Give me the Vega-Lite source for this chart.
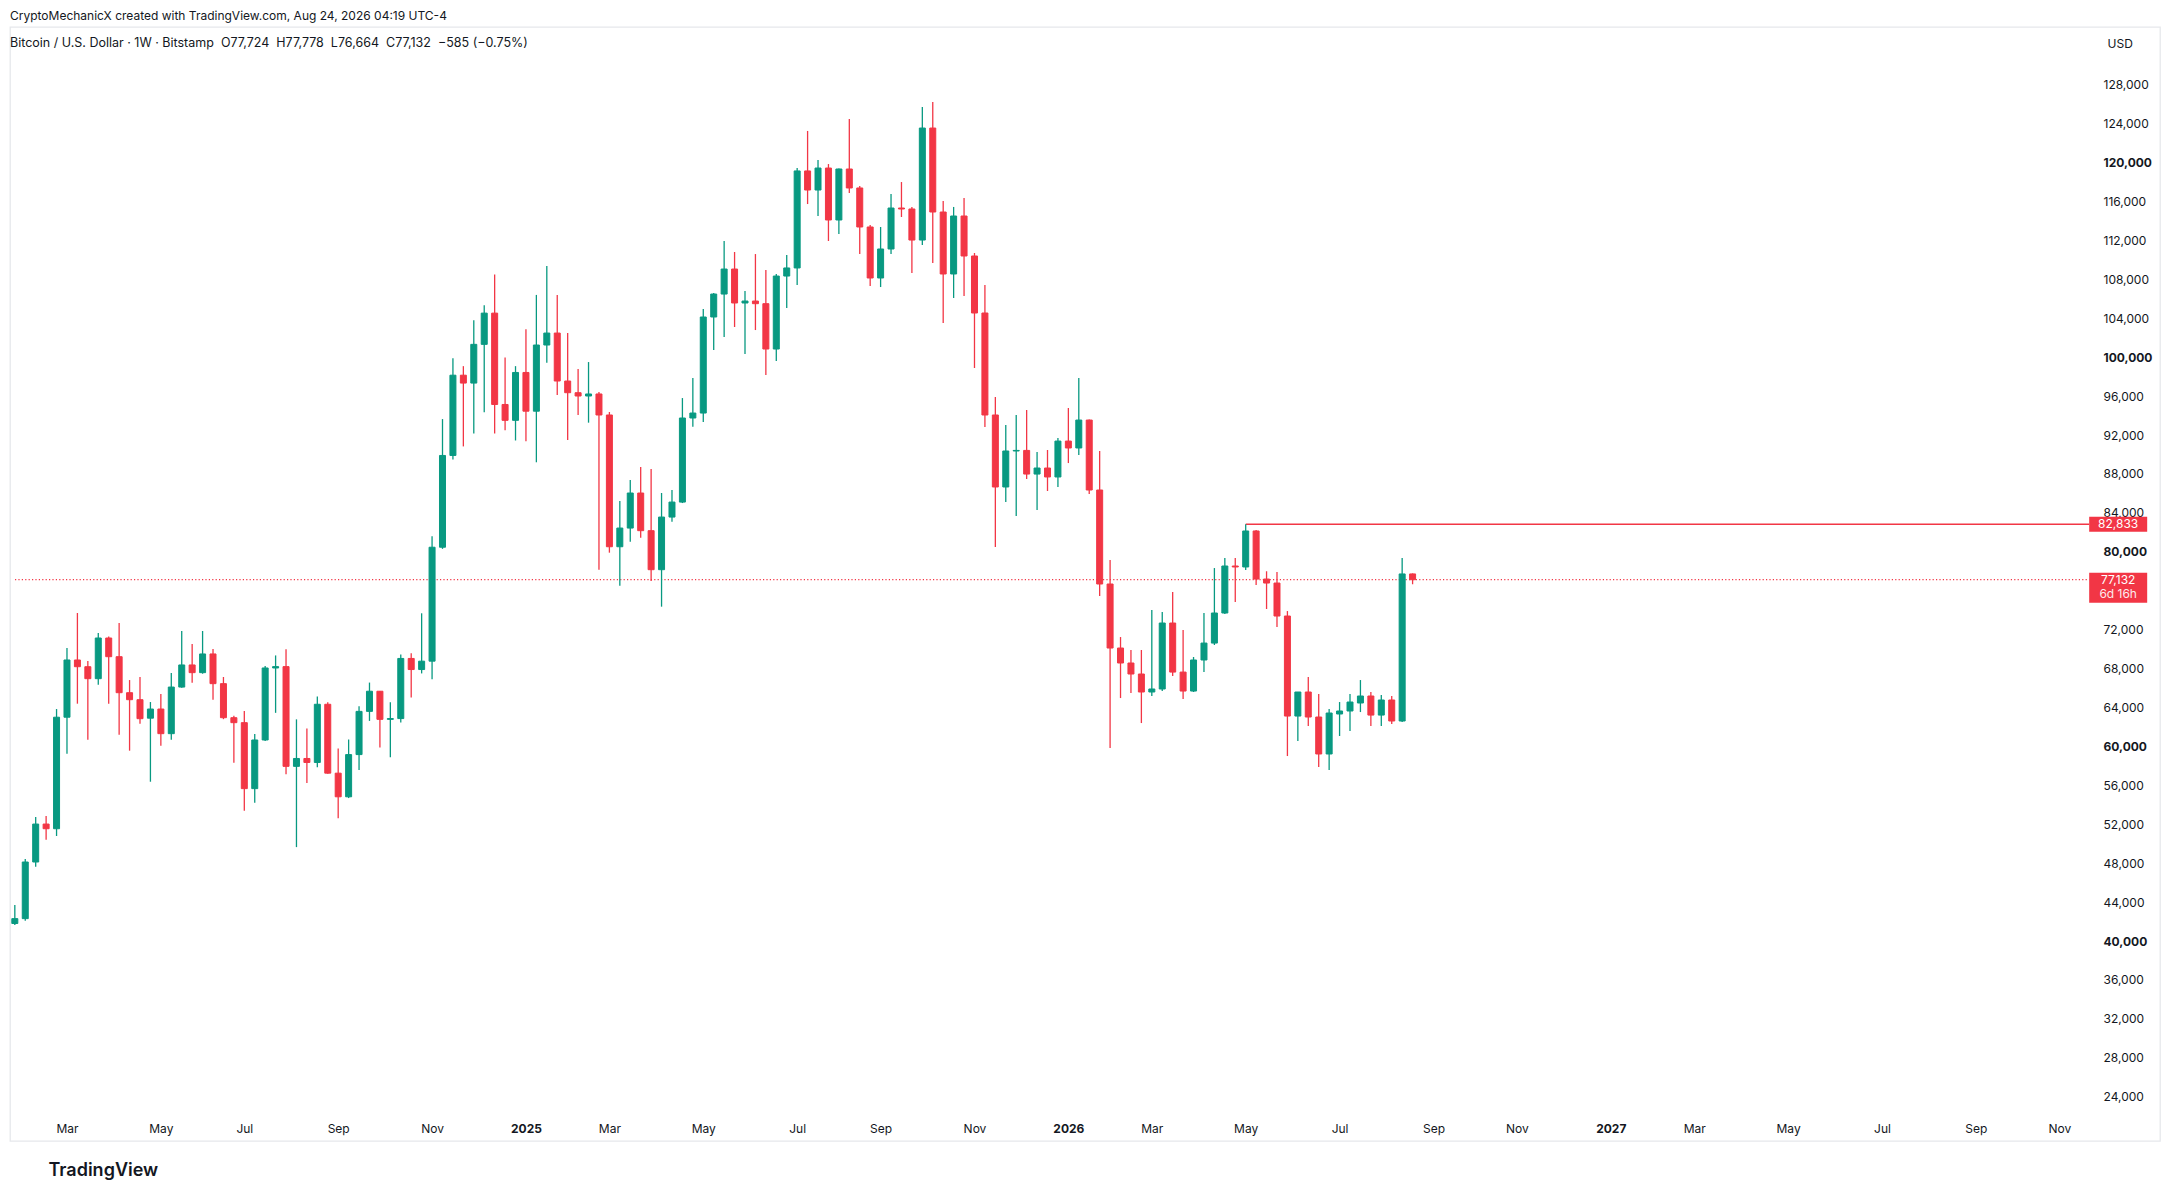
{
  "$schema": "https://vega.github.io/schema/vega-lite/v6.json",
  "description": "Bitcoin / U.S. Dollar weekly candlesticks, Bitstamp",
  "width": 2150,
  "height": 1114,
  "autosize": {"type": "none"},
  "padding": {"left": 10, "top": 27, "right": 10, "bottom": 61},
  "background": "white",
  "config": {
    "font": "Inter",
    "view": {"stroke": "#e6e8ec", "strokeWidth": 1.3}
  },
  "title": {
    "text": "CryptoMechanicX created with TradingView.com, Aug 24, 2026 04:19 UTC-4",
    "subtitle": "\u00a0\u00a0Bitcoin / U.S. Dollar · 1W · Bitstamp\u00a0\u00a0O77,724\u00a0\u00a0H77,778\u00a0\u00a0L76,664\u00a0\u00a0C77,132\u00a0\u00a0−585 (−0.75%)",
    "anchor": "start",
    "frame": "group",
    "fontSize": 12,
    "fontWeight": "normal",
    "color": "#131722",
    "subtitleFontSize": 12.5,
    "subtitleColor": "#131722",
    "subtitlePadding": 14,
    "offset": -23
  },
  "data": {
    "values": [
      {"d": "2024-01-29", "o": 41800, "h": 43700, "l": 41650, "c": 42300},
      {"d": "2024-02-05", "o": 42300, "h": 48430, "l": 42090, "c": 48120},
      {"d": "2024-02-12", "o": 48120, "h": 52740, "l": 47640, "c": 52020},
      {"d": "2024-02-19", "o": 52020, "h": 52850, "l": 50410, "c": 51540},
      {"d": "2024-02-26", "o": 51540, "h": 63840, "l": 50790, "c": 63000},
      {"d": "2024-03-04", "o": 63000, "h": 70110, "l": 59250, "c": 68880},
      {"d": "2024-03-11", "o": 68880, "h": 73710, "l": 64390, "c": 68190},
      {"d": "2024-03-18", "o": 68190, "h": 68780, "l": 60690, "c": 66960},
      {"d": "2024-03-25", "o": 66960, "h": 71650, "l": 66340, "c": 71140},
      {"d": "2024-04-01", "o": 71140, "h": 71300, "l": 64390, "c": 69220},
      {"d": "2024-04-08", "o": 69220, "h": 72680, "l": 61200, "c": 65520},
      {"d": "2024-04-15", "o": 65520, "h": 66820, "l": 59560, "c": 64800},
      {"d": "2024-04-22", "o": 64800, "h": 67130, "l": 62340, "c": 62850},
      {"d": "2024-04-29", "o": 62900, "h": 64560, "l": 56370, "c": 63840},
      {"d": "2024-05-06", "o": 63840, "h": 65380, "l": 60070, "c": 61310},
      {"d": "2024-05-13", "o": 61310, "h": 67540, "l": 60690, "c": 66100},
      {"d": "2024-05-20", "o": 66100, "h": 71860, "l": 66040, "c": 68370},
      {"d": "2024-05-27", "o": 68370, "h": 70520, "l": 66550, "c": 67580},
      {"d": "2024-06-03", "o": 67580, "h": 71860, "l": 67470, "c": 69500},
      {"d": "2024-06-10", "o": 69500, "h": 70010, "l": 64800, "c": 66450},
      {"d": "2024-06-17", "o": 66450, "h": 67130, "l": 62800, "c": 62950},
      {"d": "2024-06-24", "o": 62950, "h": 63160, "l": 58330, "c": 62440},
      {"d": "2024-07-01", "o": 62440, "h": 63640, "l": 53390, "c": 55660},
      {"d": "2024-07-08", "o": 55660, "h": 61270, "l": 54220, "c": 60660},
      {"d": "2024-07-15", "o": 60660, "h": 68260, "l": 60550, "c": 68060},
      {"d": "2024-07-22", "o": 68060, "h": 69350, "l": 63450, "c": 68200},
      {"d": "2024-07-29", "o": 68200, "h": 69990, "l": 57150, "c": 57950},
      {"d": "2024-08-05", "o": 57950, "h": 62780, "l": 49650, "c": 58760},
      {"d": "2024-08-12", "o": 58760, "h": 61850, "l": 56240, "c": 58350},
      {"d": "2024-08-19", "o": 58350, "h": 65140, "l": 57860, "c": 64330},
      {"d": "2024-08-26", "o": 64330, "h": 64530, "l": 57200, "c": 57250},
      {"d": "2024-09-02", "o": 57250, "h": 59780, "l": 52620, "c": 54820},
      {"d": "2024-09-09", "o": 54820, "h": 60710, "l": 54690, "c": 59160},
      {"d": "2024-09-16", "o": 59160, "h": 64120, "l": 57580, "c": 63600},
      {"d": "2024-09-23", "o": 63600, "h": 66560, "l": 62620, "c": 65670},
      {"d": "2024-09-30", "o": 65670, "h": 65700, "l": 59900, "c": 62780},
      {"d": "2024-10-07", "o": 62780, "h": 64530, "l": 58880, "c": 62860},
      {"d": "2024-10-14", "o": 62860, "h": 69450, "l": 62460, "c": 69040},
      {"d": "2024-10-21", "o": 69040, "h": 69570, "l": 65020, "c": 67900},
      {"d": "2024-10-28", "o": 67900, "h": 73680, "l": 67500, "c": 68760},
      {"d": "2024-11-04", "o": 68760, "h": 81600, "l": 66890, "c": 80470},
      {"d": "2024-11-11", "o": 80470, "h": 93640, "l": 80300, "c": 89900},
      {"d": "2024-11-18", "o": 89900, "h": 99900, "l": 89490, "c": 98150},
      {"d": "2024-11-25", "o": 98150, "h": 99080, "l": 90830, "c": 97340},
      {"d": "2024-12-02", "o": 97340, "h": 103800, "l": 92170, "c": 101320},
      {"d": "2024-12-09", "o": 101320, "h": 105340, "l": 94330, "c": 104530},
      {"d": "2024-12-16", "o": 104530, "h": 108510, "l": 92170, "c": 95140},
      {"d": "2024-12-23", "o": 95140, "h": 99980, "l": 92500, "c": 93510},
      {"d": "2024-12-30", "o": 93510, "h": 99080, "l": 91440, "c": 98430},
      {"d": "2025-01-06", "o": 98430, "h": 102860, "l": 91360, "c": 94450},
      {"d": "2025-01-13", "o": 94450, "h": 106400, "l": 89200, "c": 101250},
      {"d": "2025-01-20", "o": 101250, "h": 109370, "l": 99440, "c": 102480},
      {"d": "2025-01-27", "o": 102480, "h": 106390, "l": 96110, "c": 97550},
      {"d": "2025-02-03", "o": 97550, "h": 102480, "l": 91490, "c": 96350},
      {"d": "2025-02-10", "o": 96350, "h": 98790, "l": 94060, "c": 96010},
      {"d": "2025-02-17", "o": 96010, "h": 99500, "l": 93270, "c": 96220},
      {"d": "2025-02-24", "o": 96220, "h": 96420, "l": 78160, "c": 94060},
      {"d": "2025-03-03", "o": 94060, "h": 94370, "l": 79910, "c": 80520},
      {"d": "2025-03-10", "o": 80520, "h": 85220, "l": 76520, "c": 82440},
      {"d": "2025-03-17", "o": 82440, "h": 87380, "l": 81040, "c": 86040},
      {"d": "2025-03-24", "o": 86040, "h": 88710, "l": 81450, "c": 82170},
      {"d": "2025-03-31", "o": 82170, "h": 88510, "l": 77000, "c": 78160},
      {"d": "2025-04-07", "o": 78160, "h": 86040, "l": 74360, "c": 83570},
      {"d": "2025-04-14", "o": 83570, "h": 86350, "l": 83090, "c": 85110},
      {"d": "2025-04-21", "o": 85110, "h": 95800, "l": 85010, "c": 93750},
      {"d": "2025-04-28", "o": 93750, "h": 97860, "l": 92860, "c": 94260},
      {"d": "2025-05-05", "o": 94260, "h": 104950, "l": 93340, "c": 104130},
      {"d": "2025-05-12", "o": 104130, "h": 106600, "l": 100740, "c": 106490},
      {"d": "2025-05-19", "o": 106490, "h": 111940, "l": 102070, "c": 109060},
      {"d": "2025-05-26", "o": 109060, "h": 110810, "l": 103100, "c": 105570},
      {"d": "2025-06-02", "o": 105570, "h": 106800, "l": 100330, "c": 105770},
      {"d": "2025-06-09", "o": 105770, "h": 110600, "l": 102790, "c": 105500},
      {"d": "2025-06-16", "o": 105500, "h": 108960, "l": 98170, "c": 100840},
      {"d": "2025-06-23", "o": 100840, "h": 108550, "l": 99610, "c": 108340},
      {"d": "2025-06-30", "o": 108340, "h": 110500, "l": 105050, "c": 109170},
      {"d": "2025-07-07", "o": 109170, "h": 119440, "l": 107420, "c": 119140},
      {"d": "2025-07-14", "o": 119140, "h": 123250, "l": 115740, "c": 117180},
      {"d": "2025-07-21", "o": 117180, "h": 120270, "l": 114510, "c": 119440},
      {"d": "2025-07-28", "o": 119440, "h": 119850, "l": 111940, "c": 114100},
      {"d": "2025-08-04", "o": 114100, "h": 119400, "l": 112660, "c": 119340},
      {"d": "2025-08-11", "o": 119340, "h": 124480, "l": 116870, "c": 117390},
      {"d": "2025-08-18", "o": 117390, "h": 117600, "l": 110600, "c": 113380},
      {"d": "2025-08-25", "o": 113380, "h": 113580, "l": 107320, "c": 108140},
      {"d": "2025-09-01", "o": 108140, "h": 113380, "l": 107210, "c": 111120},
      {"d": "2025-09-08", "o": 111120, "h": 116770, "l": 110600, "c": 115330},
      {"d": "2025-09-15", "o": 115330, "h": 118000, "l": 114410, "c": 115230},
      {"d": "2025-09-22", "o": 115230, "h": 115440, "l": 108650, "c": 112040},
      {"d": "2025-09-29", "o": 112040, "h": 125710, "l": 111530, "c": 123550},
      {"d": "2025-10-06", "o": 123550, "h": 126230, "l": 109680, "c": 114920},
      {"d": "2025-10-13", "o": 114920, "h": 116050, "l": 103510, "c": 108550},
      {"d": "2025-10-20", "o": 108550, "h": 115440, "l": 106080, "c": 114510},
      {"d": "2025-10-27", "o": 114510, "h": 116360, "l": 106290, "c": 110400},
      {"d": "2025-11-03", "o": 110400, "h": 110710, "l": 98890, "c": 104540},
      {"d": "2025-11-10", "o": 104540, "h": 107420, "l": 92820, "c": 94060},
      {"d": "2025-11-17", "o": 94060, "h": 95910, "l": 80490, "c": 86660},
      {"d": "2025-11-24", "o": 86660, "h": 93030, "l": 85120, "c": 90360},
      {"d": "2025-12-01", "o": 90360, "h": 94060, "l": 83680, "c": 90420},
      {"d": "2025-12-08", "o": 90420, "h": 94570, "l": 87480, "c": 87990},
      {"d": "2025-12-15", "o": 87990, "h": 90250, "l": 84290, "c": 88610},
      {"d": "2025-12-22", "o": 88610, "h": 90460, "l": 86250, "c": 87690},
      {"d": "2025-12-29", "o": 87690, "h": 91690, "l": 86660, "c": 91380},
      {"d": "2026-01-05", "o": 91380, "h": 94780, "l": 89120, "c": 90670},
      {"d": "2026-01-12", "o": 90670, "h": 97860, "l": 89950, "c": 93540},
      {"d": "2026-01-19", "o": 93540, "h": 93600, "l": 85940, "c": 86350},
      {"d": "2026-01-26", "o": 86350, "h": 90360, "l": 75460, "c": 76690},
      {"d": "2026-02-02", "o": 76690, "h": 79160, "l": 59830, "c": 70110},
      {"d": "2026-02-09", "o": 70110, "h": 71240, "l": 64970, "c": 68570},
      {"d": "2026-02-16", "o": 68570, "h": 69910, "l": 65490, "c": 67440},
      {"d": "2026-02-23", "o": 67440, "h": 69910, "l": 62400, "c": 65590},
      {"d": "2026-03-02", "o": 65590, "h": 74020, "l": 65180, "c": 65900},
      {"d": "2026-03-09", "o": 65900, "h": 73810, "l": 65690, "c": 72680},
      {"d": "2026-03-16", "o": 72680, "h": 75870, "l": 67230, "c": 67640},
      {"d": "2026-03-23", "o": 67640, "h": 71960, "l": 64870, "c": 65690},
      {"d": "2026-03-30", "o": 65690, "h": 69190, "l": 65590, "c": 68880},
      {"d": "2026-04-06", "o": 68880, "h": 73710, "l": 67640, "c": 70620},
      {"d": "2026-04-13", "o": 70620, "h": 78330, "l": 70420, "c": 73710},
      {"d": "2026-04-20", "o": 73710, "h": 79360, "l": 73600, "c": 78540},
      {"d": "2026-04-27", "o": 78540, "h": 79360, "l": 74840, "c": 78440},
      {"d": "2026-05-04", "o": 78440, "h": 82833, "l": 78130, "c": 82140},
      {"d": "2026-05-11", "o": 82140, "h": 82240, "l": 76590, "c": 77200},
      {"d": "2026-05-18", "o": 77200, "h": 78000, "l": 74120, "c": 76790},
      {"d": "2026-05-25", "o": 76790, "h": 77920, "l": 72270, "c": 73400},
      {"d": "2026-06-01", "o": 73400, "h": 73910, "l": 59010, "c": 63120},
      {"d": "2026-06-08", "o": 63120, "h": 65590, "l": 60550, "c": 65590},
      {"d": "2026-06-15", "o": 65590, "h": 67130, "l": 62090, "c": 63020},
      {"d": "2026-06-22", "o": 63020, "h": 65380, "l": 57880, "c": 59220},
      {"d": "2026-06-29", "o": 59220, "h": 63840, "l": 57570, "c": 63430},
      {"d": "2026-07-06", "o": 63330, "h": 64560, "l": 61070, "c": 63640},
      {"d": "2026-07-13", "o": 63640, "h": 65380, "l": 61580, "c": 64560},
      {"d": "2026-07-20", "o": 64460, "h": 66820, "l": 63530, "c": 65180},
      {"d": "2026-07-27", "o": 65180, "h": 65590, "l": 62090, "c": 63220},
      {"d": "2026-08-03", "o": 63220, "h": 65280, "l": 62090, "c": 64770},
      {"d": "2026-08-10", "o": 64770, "h": 65180, "l": 62300, "c": 62610},
      {"d": "2026-08-17", "o": 62610, "h": 79360, "l": 62500, "c": 77724},
      {"d": "2026-08-24", "o": 77724, "h": 77778, "l": 76664, "c": 77132}
    ]
  },
  "layer": [
    {
      "transform": [{"filter": {"field": "d", "equal": {"year": 2026, "month": 8, "date": 24, "utc": true}}}],
      "mark": {"type": "rule", "color": "#f23645", "strokeWidth": 1.3, "strokeDash": [1.2, 2.2]},
      "encoding": {
        "x": {
          "datum": {"year": 2024, "month": 1, "date": 29, "hours": 2, "minutes": 50, "utc": true},
          "type": "temporal",
          "title": "TradingView",
          "scale": {"type": "utc", "nice": false, "domain": [{"year": 2024, "month": 1, "date": 29, "hours": 2, "minutes": 50, "utc": true}, {"year": 2028, "month": 1, "date": 4, "hours": 5, "utc": true}]},
          "axis": {
            "values": [
              {"year": 2024, "month": 3, "date": 4, "utc": true},
              {"year": 2024, "month": 5, "date": 6, "utc": true},
              {"year": 2024, "month": 7, "date": 1, "utc": true},
              {"year": 2024, "month": 9, "date": 2, "utc": true},
              {"year": 2024, "month": 11, "date": 4, "utc": true},
              {"year": 2025, "month": 1, "date": 6, "utc": true},
              {"year": 2025, "month": 3, "date": 3, "utc": true},
              {"year": 2025, "month": 5, "date": 5, "utc": true},
              {"year": 2025, "month": 7, "date": 7, "utc": true},
              {"year": 2025, "month": 9, "date": 1, "utc": true},
              {"year": 2025, "month": 11, "date": 3, "utc": true},
              {"year": 2026, "month": 1, "date": 5, "utc": true},
              {"year": 2026, "month": 3, "date": 2, "utc": true},
              {"year": 2026, "month": 5, "date": 4, "utc": true},
              {"year": 2026, "month": 7, "date": 6, "utc": true},
              {"year": 2026, "month": 9, "date": 7, "utc": true},
              {"year": 2026, "month": 11, "date": 2, "utc": true},
              {"year": 2027, "month": 1, "date": 4, "utc": true},
              {"year": 2027, "month": 3, "date": 1, "utc": true},
              {"year": 2027, "month": 5, "date": 3, "utc": true},
              {"year": 2027, "month": 7, "date": 5, "utc": true},
              {"year": 2027, "month": 9, "date": 6, "utc": true},
              {"year": 2027, "month": 11, "date": 1, "utc": true}
            ],
            "labelExpr": "utcmonth(datum.value) === 0 ? utcFormat(datum.value, '%Y') : utcFormat(datum.value, '%b')",
            "labelFontWeight": {"condition": {"test": "utcmonth(datum.value) === 0", "value": "bold"}, "value": "normal"},
            "labelFontSize": 12,
            "labelColor": "#131722",
            "labelBaseline": "middle",
            "labelPadding": 0,
            "labelFlush": false,
            "labelOverlap": false,
            "labelBound": false,
            "ticks": false,
            "tickSize": 0,
            "domain": false,
            "grid": false,
            "offset": -13,
            "titleX": 38,
            "titleY": 42,
            "titleAlign": "left",
            "titleAnchor": "start",
            "titleBaseline": "middle",
            "titleFontSize": 18,
            "titleFontWeight": 600,
            "titleColor": "#131722"
          }
        },
        "x2": {"datum": {"year": 2027, "month": 11, "date": 21, "hours": 2, "utc": true}},
        "y": {
          "field": "c",
          "type": "quantitative",
          "title": "USD",
          "scale": {"domain": [19447, 133934], "nice": false, "zero": false},
          "axis": {
            "orient": "right",
            "values": [24000, 28000, 32000, 36000, 40000, 44000, 48000, 52000, 56000, 60000, 64000, 68000, 72000, 80000, 84000, 88000, 92000, 96000, 100000, 104000, 108000, 112000, 116000, 120000, 124000, 128000],
            "labelExpr": "format(datum.value, ',')",
            "labelFontWeight": {"condition": {"test": "datum.value % 20000 === 0", "value": "bold"}, "value": "normal"},
            "labelFontSize": 12,
            "labelColor": "#131722",
            "labelAlign": "left",
            "labelBaseline": "middle",
            "labelPadding": 9,
            "labelOverlap": false,
            "labelFlush": false,
            "labelBound": false,
            "ticks": false,
            "tickSize": 0,
            "domain": false,
            "grid": false,
            "offset": -66,
            "titleAngle": 0,
            "titleX": 13,
            "titleY": 16,
            "titleAlign": "left",
            "titleBaseline": "middle",
            "titleFontSize": 12,
            "titleFontWeight": "normal",
            "titleColor": "#131722"
          }
        }
      }
    },
    {
      "transform": [{"filter": {"field": "d", "equal": {"year": 2026, "month": 5, "date": 4, "utc": true}}}],
      "mark": {"type": "rule", "color": "#f23645", "strokeWidth": 1.3},
      "encoding": {
        "x": {"field": "d", "type": "temporal", "title": "TradingView", "scale": {"type": "utc", "nice": false, "domain": [{"year": 2024, "month": 1, "date": 29, "hours": 2, "minutes": 50, "utc": true}, {"year": 2028, "month": 1, "date": 4, "hours": 5, "utc": true}]}},
        "x2": {"datum": {"year": 2027, "month": 11, "date": 21, "hours": 2, "utc": true}},
        "y": {"field": "h", "type": "quantitative", "title": "USD", "scale": {"domain": [19447, 133934], "nice": false, "zero": false}}
      }
    },
    {
      "mark": {"type": "rule", "strokeWidth": 1.3, "clip": true},
      "encoding": {
        "x": {"field": "d", "type": "temporal", "title": "TradingView", "scale": {"type": "utc", "nice": false, "domain": [{"year": 2024, "month": 1, "date": 29, "hours": 2, "minutes": 50, "utc": true}, {"year": 2028, "month": 1, "date": 4, "hours": 5, "utc": true}]}},
        "y": {"field": "l", "type": "quantitative", "title": "USD", "scale": {"domain": [19447, 133934], "nice": false, "zero": false}},
        "y2": {"field": "h"},
        "color": {"condition": {"test": "datum.c >= datum.o", "value": "#089981"}, "value": "#f23645"}
      }
    },
    {
      "mark": {"type": "bar", "width": 6, "strokeWidth": 1, "clip": true},
      "encoding": {
        "x": {"field": "d", "type": "temporal", "title": "TradingView", "scale": {"type": "utc", "nice": false, "domain": [{"year": 2024, "month": 1, "date": 29, "hours": 2, "minutes": 50, "utc": true}, {"year": 2028, "month": 1, "date": 4, "hours": 5, "utc": true}]}},
        "y": {"field": "o", "type": "quantitative", "title": "USD", "scale": {"domain": [19447, 133934], "nice": false, "zero": false}},
        "y2": {"field": "c"},
        "color": {"condition": {"test": "datum.c >= datum.o", "value": "#089981"}, "value": "#f23645"},
        "stroke": {"condition": {"test": "datum.c >= datum.o", "value": "#089981"}, "value": "#f23645"}
      }
    },
    {
      "transform": [{"filter": {"field": "d", "equal": {"year": 2026, "month": 5, "date": 4, "utc": true}}}],
      "mark": {"type": "tick", "orient": "horizontal", "color": "#f23645", "size": 58, "thickness": 15, "opacity": 1},
      "encoding": {
        "x": {"datum": {"year": 2027, "month": 12, "date": 10, "hours": 12, "utc": true}, "type": "temporal", "title": "TradingView", "scale": {"type": "utc", "nice": false, "domain": [{"year": 2024, "month": 1, "date": 29, "hours": 2, "minutes": 50, "utc": true}, {"year": 2028, "month": 1, "date": 4, "hours": 5, "utc": true}]}},
        "y": {"field": "h", "type": "quantitative", "title": "USD", "scale": {"domain": [19447, 133934], "nice": false, "zero": false}}
      }
    },
    {
      "transform": [{"filter": {"field": "d", "equal": {"year": 2026, "month": 5, "date": 4, "utc": true}}}],
      "mark": {"type": "text", "color": "white", "fontSize": 12, "align": "center", "baseline": "middle"},
      "encoding": {
        "x": {"datum": {"year": 2027, "month": 12, "date": 10, "hours": 12, "utc": true}, "type": "temporal", "title": "TradingView", "scale": {"type": "utc", "nice": false, "domain": [{"year": 2024, "month": 1, "date": 29, "hours": 2, "minutes": 50, "utc": true}, {"year": 2028, "month": 1, "date": 4, "hours": 5, "utc": true}]}},
        "y": {"field": "h", "type": "quantitative", "title": "USD", "scale": {"domain": [19447, 133934], "nice": false, "zero": false}},
        "text": {"field": "h", "type": "quantitative", "format": ","}
      }
    },
    {
      "transform": [{"filter": {"field": "d", "equal": {"year": 2026, "month": 8, "date": 24, "utc": true}}}],
      "mark": {"type": "tick", "orient": "horizontal", "color": "#f23645", "size": 58, "thickness": 30, "yOffset": 8, "opacity": 1},
      "encoding": {
        "x": {"datum": {"year": 2027, "month": 12, "date": 10, "hours": 12, "utc": true}, "type": "temporal", "title": "TradingView", "scale": {"type": "utc", "nice": false, "domain": [{"year": 2024, "month": 1, "date": 29, "hours": 2, "minutes": 50, "utc": true}, {"year": 2028, "month": 1, "date": 4, "hours": 5, "utc": true}]}},
        "y": {"field": "c", "type": "quantitative", "title": "USD", "scale": {"domain": [19447, 133934], "nice": false, "zero": false}}
      }
    },
    {
      "transform": [{"filter": {"field": "d", "equal": {"year": 2026, "month": 8, "date": 24, "utc": true}}}],
      "mark": {"type": "text", "color": "white", "fontSize": 12, "align": "center", "baseline": "middle"},
      "encoding": {
        "x": {"datum": {"year": 2027, "month": 12, "date": 10, "hours": 12, "utc": true}, "type": "temporal", "title": "TradingView", "scale": {"type": "utc", "nice": false, "domain": [{"year": 2024, "month": 1, "date": 29, "hours": 2, "minutes": 50, "utc": true}, {"year": 2028, "month": 1, "date": 4, "hours": 5, "utc": true}]}},
        "y": {"field": "c", "type": "quantitative", "title": "USD", "scale": {"domain": [19447, 133934], "nice": false, "zero": false}},
        "text": {"field": "c", "type": "quantitative", "format": ","}
      }
    },
    {
      "transform": [{"filter": {"field": "d", "equal": {"year": 2026, "month": 8, "date": 24, "utc": true}}}],
      "mark": {"type": "text", "color": "white", "opacity": 0.9, "fontSize": 12, "align": "center", "baseline": "middle", "dy": 14, "text": "6d 16h"},
      "encoding": {
        "x": {"datum": {"year": 2027, "month": 12, "date": 10, "hours": 12, "utc": true}, "type": "temporal", "title": "TradingView", "scale": {"type": "utc", "nice": false, "domain": [{"year": 2024, "month": 1, "date": 29, "hours": 2, "minutes": 50, "utc": true}, {"year": 2028, "month": 1, "date": 4, "hours": 5, "utc": true}]}},
        "y": {"field": "c", "type": "quantitative", "title": "USD", "scale": {"domain": [19447, 133934], "nice": false, "zero": false}}
      }
    }
  ]
}
